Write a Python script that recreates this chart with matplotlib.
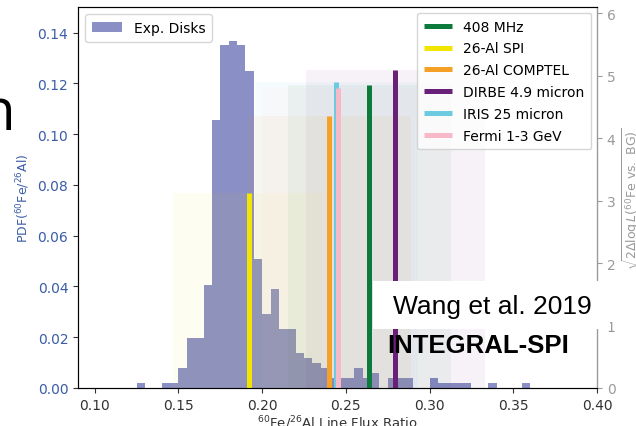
import matplotlib
matplotlib.use("Agg")
import matplotlib.pyplot as plt
from matplotlib.patches import Rectangle

# Histogram of 60Fe/26Al flux ratio from the exponential-disk models
bin_left = [0.125, 0.130, 0.135, 0.140, 0.145, 0.150, 0.155, 0.160, 0.165, 0.170,
            0.175, 0.180, 0.185, 0.190, 0.195, 0.200, 0.205, 0.210, 0.215, 0.220,
            0.225, 0.230, 0.235, 0.240, 0.245, 0.250, 0.255, 0.260, 0.265, 0.270,
            0.275, 0.280, 0.285, 0.290, 0.295, 0.300, 0.305, 0.310, 0.315, 0.320,
            0.325, 0.330, 0.335, 0.340, 0.345, 0.350, 0.355]
pdf_values = [0.0020, 0.0, 0.0, 0.0020, 0.0020, 0.0078, 0.0197, 0.0197, 0.0406, 0.1055,
              0.1350, 0.1366, 0.1350, 0.1250, 0.0508, 0.0293, 0.0390, 0.0234, 0.0234, 0.0137,
              0.0117, 0.0098, 0.0080, 0.0039, 0.0039, 0.0039, 0.0078, 0.0039, 0.0059, 0.0,
              0.0039, 0.0039, 0.0039, 0.0, 0.0, 0.0039, 0.0020, 0.0020, 0.0020, 0.0020,
              0.0, 0.0, 0.0020, 0.0, 0.0, 0.0, 0.0020]
bin_width = 0.005

# Best-fit ratios per tracer map, their ranges and significance
tracers = ["408 MHz", "26-Al SPI", "26-Al COMPTEL", "DIRBE 4.9 micron",
           "IRIS 25 micron", "Fermi 1-3 GeV"]
best_ratio = [0.2637, 0.1920, 0.2402, 0.2795, 0.2440, 0.2456]
ratio_low = [0.2156, 0.1470, 0.1915, 0.2260, 0.1955, 0.2000]
ratio_high = [0.3130, 0.2365, 0.2890, 0.3332, 0.2930, 0.2910]
significance = [4.86, 3.12, 4.35, 5.10, 4.90, 4.80]
tracer_colors = ["#0b7a3b", "#f2e600", "#f5a128", "#6a1f78", "#6ccbe0", "#f7b8c8"]

hist_color = "#8a8fc6"
left_color = "#3b5ca6"
right_color = "#9a9a9a"

fig = plt.figure(figsize=(6.36, 4.27), dpi=100)
ax = fig.add_axes([0.1226, 0.089, 0.8161, 0.892])
ax2 = ax.twinx()

ax.bar(bin_left, pdf_values, width=bin_width, align="edge", color=hist_color,
       linewidth=0, label="Exp. Disks")
ax.set_xlim(0.09, 0.40)
ax.set_ylim(0, 0.15)
ax.set_xticks([0.10, 0.15, 0.20, 0.25, 0.30, 0.35, 0.40])
ax.set_xticklabels(["0.10", "0.15", "0.20", "0.25", "0.30", "0.35", "0.40"])
ax.set_yticks([0.00, 0.02, 0.04, 0.06, 0.08, 0.10, 0.12, 0.14])
ax.set_yticklabels(["0.00", "0.02", "0.04", "0.06", "0.08", "0.10", "0.12", "0.14"])
ax.tick_params(axis="y", colors=left_color, labelsize=10)
ax.tick_params(axis="y", color="#333333")
ax.tick_params(axis="x", labelsize=10, colors="#333333")
ax.set_ylabel(r"PDF($^{60}$Fe/$^{26}$Al)", color=left_color, fontsize=9)
ax.set_xlabel(r"$^{60}$Fe/$^{26}$Al Line Flux Ratio", color="#333333", fontsize=9.5,
              labelpad=1)
for sp in ["left", "bottom", "top"]:
    ax.spines[sp].set_color("#444444")

# Uncertainty ranges as translucent blocks, best fits as vertical bars
for lo, hi, sig, col in zip(ratio_low, ratio_high, significance, tracer_colors):
    ax2.fill_between([lo, hi], 0, sig, color=col, alpha=0.055, linewidth=0)
handles = []
for name, x, sig, col in zip(tracers, best_ratio, significance, tracer_colors):
    h, = ax2.plot([x, x], [0, sig], color=col, linewidth=3.6, solid_capstyle="butt",
                  label=name)
    handles.append(h)
ax2.set_ylim(0, 6.1)
ax2.set_yticks([0, 1, 2, 3, 4, 5, 6])
ax2.tick_params(axis="y", colors=right_color, labelsize=10)
ax2.spines["right"].set_color(right_color)
ax2.set_ylabel(r"$\sqrt{2\Delta\log L(^{60}{\rm Fe\ vs.\ BG})}$", color=right_color,
               fontsize=9, labelpad=4)

leg1 = ax.legend(loc="upper left", fontsize=10, handlelength=2.2, borderpad=0.5)
leg2 = ax2.legend(handles=handles, loc="upper right", fontsize=10, handlelength=2.0,
                  labelspacing=0.56, borderpad=0.5, borderaxespad=0.4)

# Caption box over the lower right of the plot
fig.patches.append(Rectangle((373 / 636, 1 - 330 / 427), 237 / 636, 48 / 427,
                             transform=fig.transFigure, facecolor="white",
                             edgecolor="none", zorder=10))
fig.text(492 / 636, 1 - 307 / 427, "Wang et al. 2019", ha="center", va="center",
         fontsize=19, family="Liberation Sans", color="black", zorder=11)
fig.text(478 / 636, 1 - 346 / 427, "INTEGRAL-SPI", ha="center", va="center",
         fontsize=18.5, family="Liberation Sans", fontweight="bold", color="black",
         zorder=11)
fig.text(16 / 636, 1 - 130 / 427, "n", ha="right", va="baseline", fontsize=42,
         family="Open Sans", color="black")

fig.savefig("out.png", dpi=100)
